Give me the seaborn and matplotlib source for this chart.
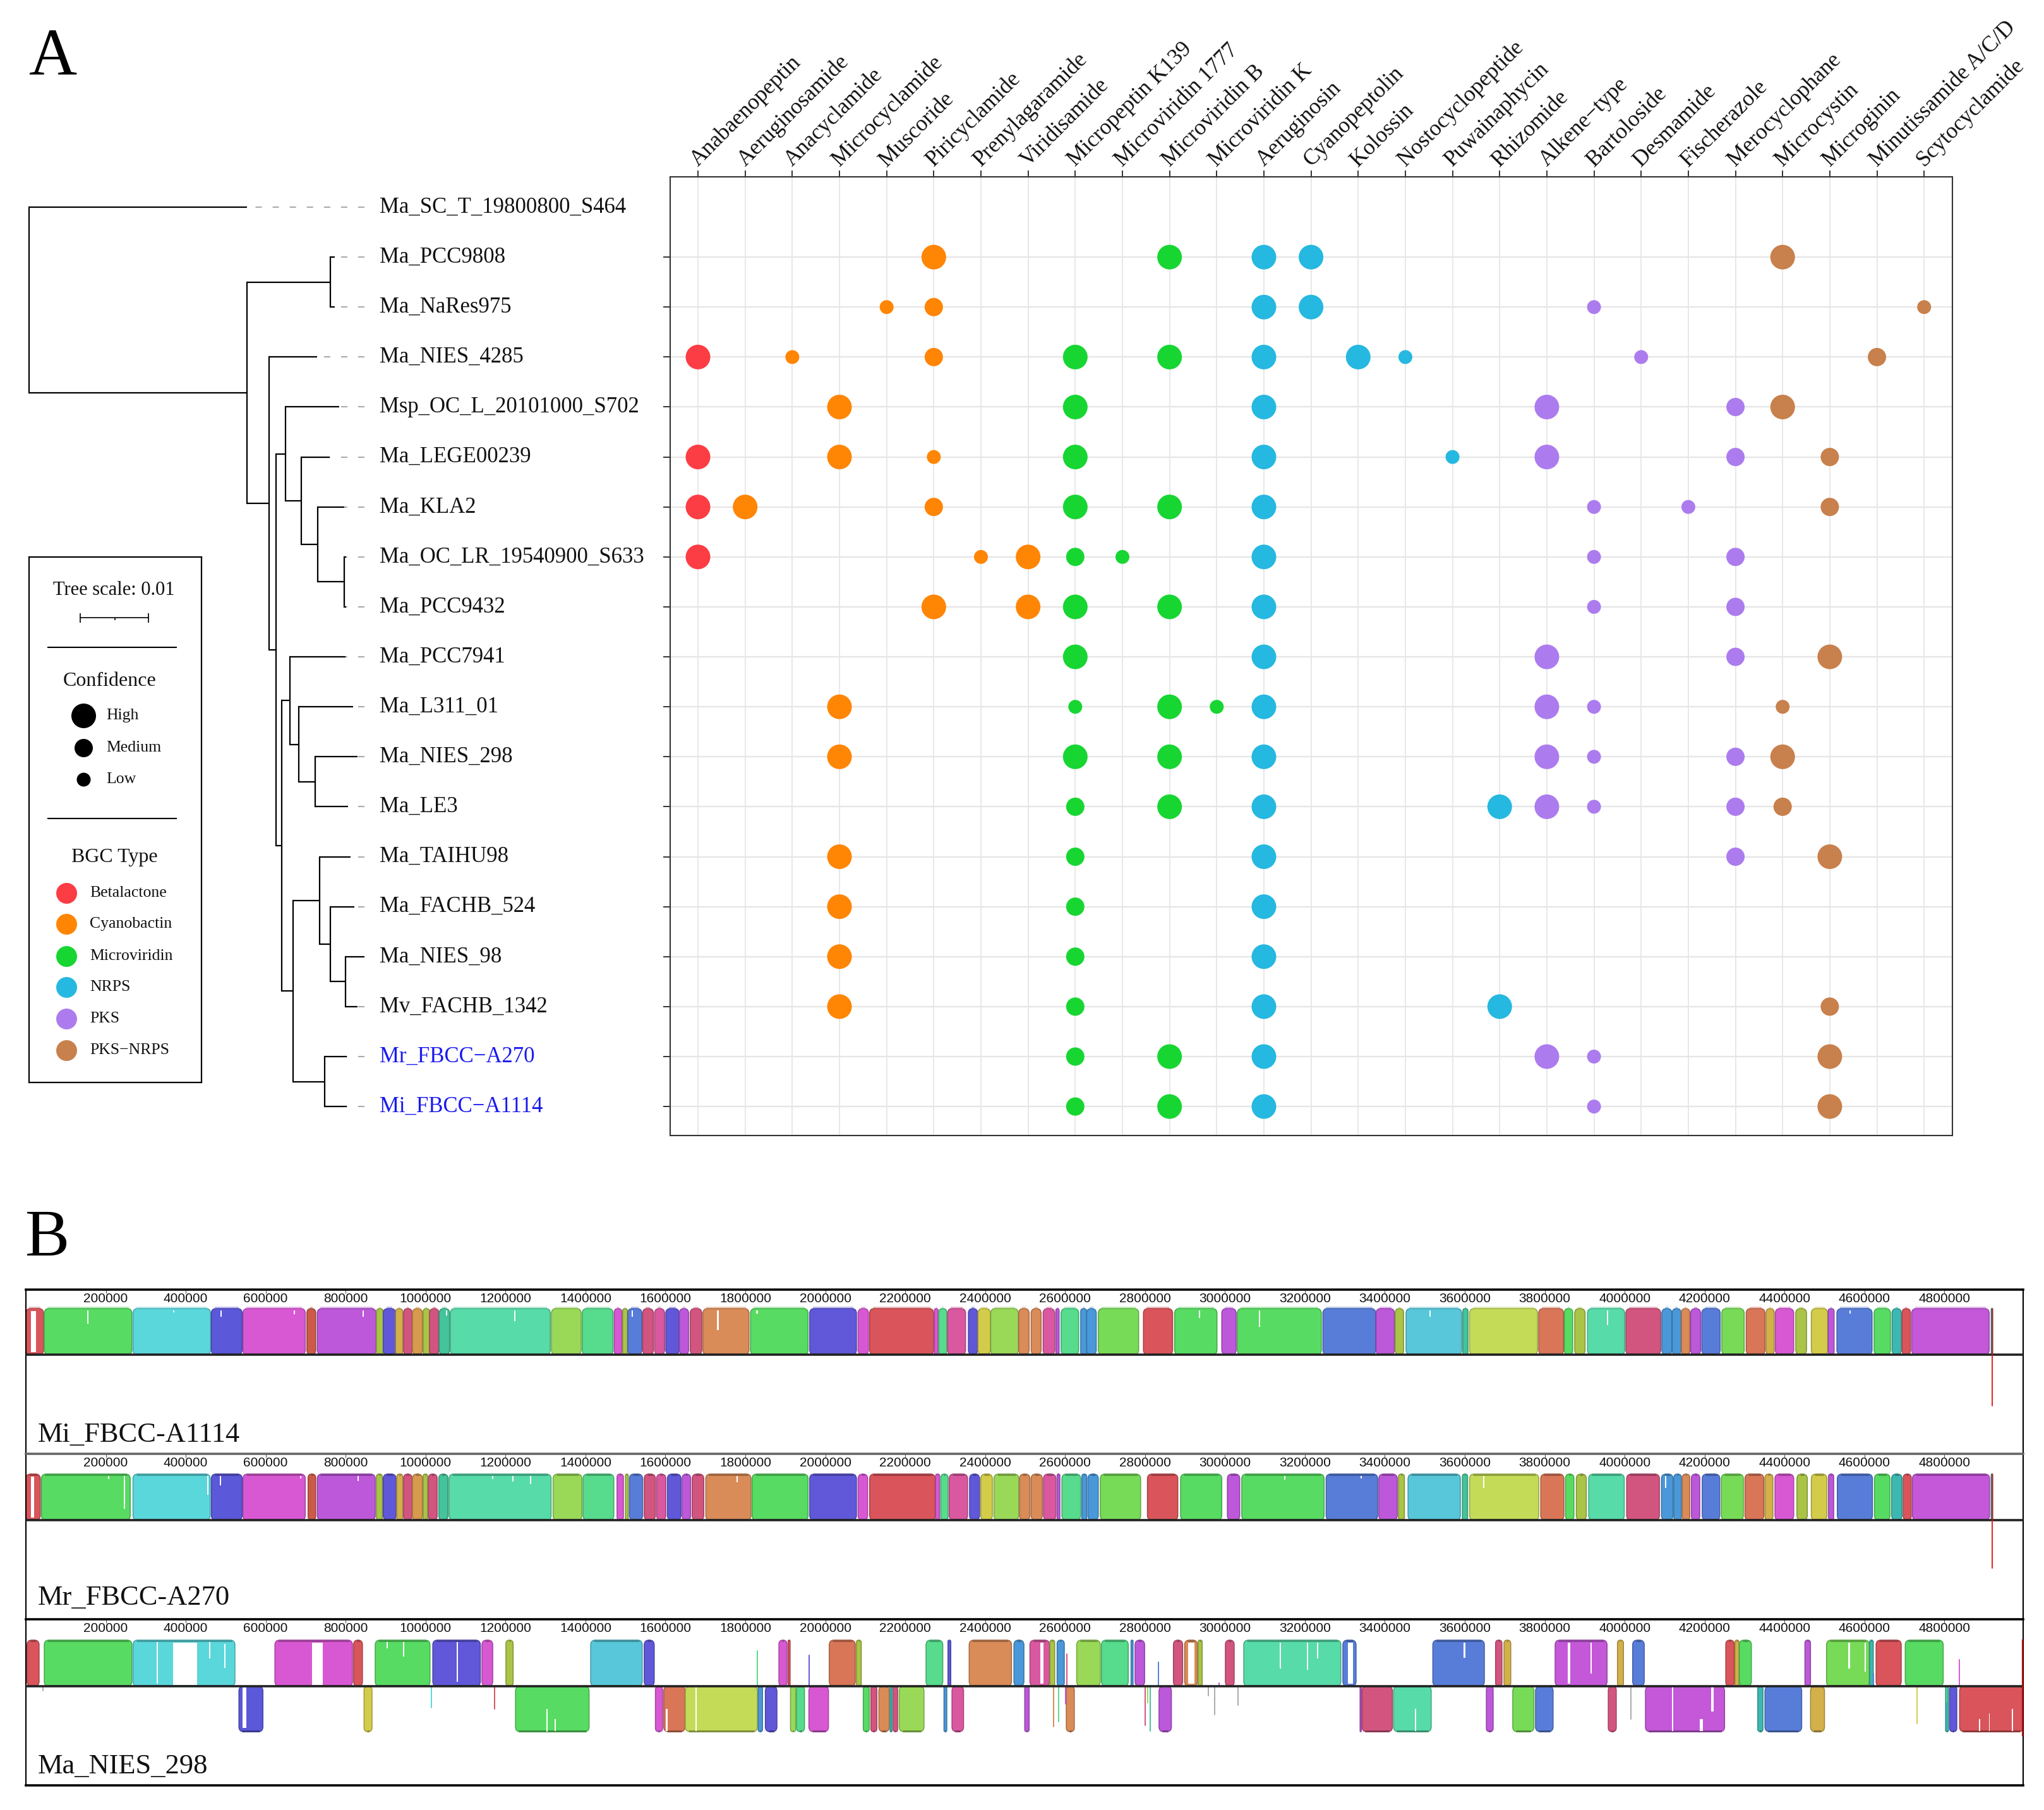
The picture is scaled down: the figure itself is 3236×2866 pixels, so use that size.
import numpy as np
import pandas as pd
import matplotlib
matplotlib.use("Agg")
import matplotlib.pyplot as plt
import seaborn as sns
from matplotlib.colors import to_rgb
from matplotlib.patches import FancyBboxPatch, Rectangle

# ---------- panel A data ----------
genomes = ["Ma_SC_T_19800800_S464", "Ma_PCC9808", "Ma_NaRes975", "Ma_NIES_4285",
           "Msp_OC_L_20101000_S702", "Ma_LEGE00239", "Ma_KLA2", "Ma_OC_LR_19540900_S633",
           "Ma_PCC9432", "Ma_PCC7941", "Ma_L311_01", "Ma_NIES_298", "Ma_LE3", "Ma_TAIHU98",
           "Ma_FACHB_524", "Ma_NIES_98", "Mv_FACHB_1342", "Mr_FBCC−A270", "Mi_FBCC−A1114"]
compounds = ["Anabaenopeptin", "Aeruginosamide", "Anacyclamide", "Microcyclamide", "Muscoride",
             "Piricyclamide", "Prenylagaramide", "Viridisamide", "Micropeptin K139",
             "Microviridin 1777", "Microviridin B", "Microviridin K", "Aeruginosin",
             "Cyanopeptolin", "Kolossin", "Nostocyclopeptide", "Puwainaphycin", "Rhizomide",
             "Alkene−type", "Bartoloside", "Desmamide", "Fischerazole", "Merocyclophane",
             "Microcystin", "Microginin", "Minutissamide A/C/D", "Scytocyclamide"]
bgc_types = ["Betalactone", "Cyanobactin", "Microviridin", "NRPS", "PKS", "PKS−NRPS"]
compound_bgc = (["Betalactone"] + ["Cyanobactin"] * 7 + ["Microviridin"] * 4 + ["NRPS"] * 6
                + ["PKS"] * 5 + ["PKS−NRPS"] * 4)
# compound index per genome, confidence letter per hit
hit_cols = [[], [5, 10, 12, 13, 23], [4, 5, 12, 13, 19, 26],
            [0, 2, 5, 8, 10, 12, 14, 15, 20, 25], [3, 8, 12, 18, 22, 23],
            [0, 3, 5, 8, 12, 16, 18, 22, 24], [0, 1, 5, 8, 10, 12, 19, 21, 24],
            [0, 6, 7, 8, 9, 12, 19, 22], [5, 7, 8, 10, 12, 19, 22], [8, 12, 18, 22, 24],
            [3, 8, 10, 11, 12, 18, 19, 23], [3, 8, 10, 12, 18, 19, 22, 23],
            [8, 10, 12, 17, 18, 19, 22, 23], [3, 8, 12, 22, 24], [3, 8, 12], [3, 8, 12],
            [3, 8, 12, 17, 24], [8, 10, 12, 18, 19, 24], [8, 10, 12, 19, 24]]
hit_conf = ["", "HHHHH", "LMHHLL", "HLMHHHHLLM", "HHHHMH", "HHLHHLHMM", "HHMHHHLLM",
            "HLHMLHLM", "HHHHHLM", "HHHMH", "HLHLHHLL", "HHHHHLMH", "MHHHHLMM", "HMHMH",
            "HMH", "HMH", "HMHHM", "MHHHLH", "MHHLH"]
conf_names = {"H": "High", "M": "Medium", "L": "Low"}

# tree: (node depth, child, child), an int child is a row in genomes
tree = (46, 0, (391, (523, 1, 2), (426, 3, (437,
        (452, 4, (477, 5, (503, 6, (545, 7, 8)))),
        (446, (459, 9, (473, 10, (499, 11, 12))),
              (464, (506, 13, (523, 14, (547, 15, 16))), (514, 17, 18)))))))
tip_depth = [391, 530, 530, 502, 537, 522, 545, 548, 548, 547, 559, 566, 551, 555, 561, 577, 566, 549, 549]

# ---------- panel B data, all in kb ----------
ruler_ticks = list(range(200000, 4800001, 200000))
track_names = ["Mi_FBCC-A1114", "Mr_FBCC-A270", "Ma_NIES_298"]
lcb_colors = {"red": "#D9555B", "green": "#58DB62", "cyan": "#5AD7DB", "blue": "#5B58D9",
              "magenta": "#D858D3", "brick": "#CC5A48", "purple": "#BC58D9", "olive": "#A9C447",
              "bluep": "#6058D9", "gold": "#D2B04A", "crimson": "#D2557F", "amber": "#D79A4E",
              "teal": "#45C39A", "mint": "#57DBA9", "ygreen": "#9AD958", "mgreen": "#57DB8C",
              "royal": "#587DD9", "pink": "#D958A0", "orange": "#D98B58", "azure": "#4A98D9",
              "lime": "#78DB58", "sky": "#57C7D9", "khaki": "#C4DB58", "orred": "#D97658",
              "yolive": "#D2CC4A", "orchid": "#C458D9", "tealb": "#3DB8B0"}
shared_lcb = ["red", "green", "cyan", "blue", "magenta", "brick", "purple", "olive", "bluep", "gold",
              "crimson", "amber", "olive", "crimson", "teal", "mint", "ygreen", "mgreen", "magenta",
              "olive", "royal", "crimson", "pink", "bluep", "purple", "crimson", "orange", "green",
              "bluep", "magenta", "red", "magenta", "mgreen", "pink", "bluep", "yolive", "ygreen",
              "orange", "orange", "pink", "purple", "mgreen", "azure", "azure", "lime", "red",
              "green", "purple", "green", "royal", "purple", "olive", "sky", "teal", "khaki",
              "orred", "green", "olive", "mint", "crimson", "azure", "azure", "orange", "purple",
              "royal", "lime", "orred", "gold", "magenta", "olive", "yolive", "purple", "royal",
              "green", "tealb", "red", "orchid", "tealb"]
t1_start = [0, 46, 268, 464, 543, 703, 729, 877, 894, 925, 945, 967, 994, 1010, 1034, 1062, 1315, 1392, 1472,
            1493, 1506, 1543, 1573, 1601, 1635, 1662, 1694, 1813, 1961, 2082, 2111, 2273, 2284, 2306, 2358,
            2382, 2414, 2484, 2515, 2545, 2577, 2590, 2639, 2654, 2683, 2796, 2874, 2992, 3031, 3245, 3378,
            3426, 3453, 3595, 3612, 3785, 3849, 3875, 3907, 4003, 4093, 4119, 4142, 4165, 4193, 4243, 4304,
            4354, 4377, 4428, 4467, 4509, 4531, 4624, 4669, 4694, 4718, 4917]
t1_end = [44, 265, 462, 541, 699, 725, 876, 894, 925, 943, 966, 992, 1010, 1033, 1060, 1312, 1389, 1469, 1491,
          1505, 1541, 1570, 1598, 1634, 1658, 1691, 1809, 1957, 2078, 2108, 2271, 2282, 2304, 2351, 2381,
          2413, 2483, 2510, 2540, 2574, 2585, 2634, 2654, 2678, 2784, 2869, 2980, 3028, 3241, 3377, 3424,
          3447, 3592, 3608, 3782, 3847, 3870, 3901, 4000, 4090, 4118, 4141, 4163, 4190, 4239, 4299, 4351,
          4374, 4423, 4455, 4508, 4524, 4619, 4665, 4692, 4715, 4912, 4921]
t2_start = [0, 39, 268, 464, 543, 706, 729, 877, 894, 928, 945, 967, 994, 1007, 1033, 1059, 1319, 1394, 1479,
            1500, 1510, 1547, 1578, 1605, 1642, 1667, 1701, 1817, 1961, 2082, 2111, 2276, 2289, 2310, 2361,
            2389, 2422, 2486, 2515, 2546, 2580, 2592, 2642, 2657, 2688, 2806, 2889, 3006, 3042, 3253, 3385,
            3434, 3458, 3594, 3612, 3790, 3852, 3879, 3910, 4005, 4092, 4123, 4144, 4167, 4194, 4242, 4301,
            4351, 4376, 4431, 4467, 4510, 4532, 4625, 4668, 4697, 4720, 4917]
t2_end = [36, 261, 461, 541, 699, 725, 874, 892, 926, 943, 966, 992, 1005, 1029, 1056, 1314, 1391, 1471, 1495,
          1507, 1543, 1575, 1601, 1639, 1663, 1696, 1814, 1957, 2078, 2106, 2275, 2286, 2307, 2356, 2386,
          2418, 2484, 2512, 2543, 2577, 2587, 2639, 2654, 2683, 2789, 2882, 2992, 3037, 3248, 3382, 3431,
          3449, 3589, 3607, 3785, 3848, 3873, 3904, 3999, 4087, 4121, 4142, 4163, 4188, 4238, 4297, 4348,
          4371, 4423, 4457, 4506, 4523, 4620, 4664, 4694, 4717, 4913, 4921]

t3_up_lcb = ["red", "green", "cyan", "magenta", "red", "green", "bluep", "magenta", "olive", "sky", "bluep",
             "magenta", "red", "orred", "olive", "mgreen", "bluep", "orange", "azure", "pink", "olive", "azure",
             "ygreen", "mgreen", "azure", "purple", "crimson", "orange", "olive", "crimson", "mint", "royal",
             "royal", "crimson", "gold", "orchid", "gold", "royal", "red", "gold", "green", "purple", "lime",
             "tealb", "red", "green"]
t3_up_start = [3, 46, 268, 623, 820, 874, 1018, 1141, 1201, 1413, 1547, 1884, 1907, 2010, 2078, 2252, 2307, 2360,
               2472, 2512, 2562, 2580, 2629, 2691, 2765, 2775, 2871, 2899, 2933, 3001, 3047, 3295, 3520, 3677,
               3698, 3826, 3982, 4020, 4253, 4276, 4287, 4451, 4505, 4613, 4629, 4702]
t3_up_end = [33, 265, 523, 817, 842, 1011, 1137, 1168, 1219, 1542, 1572, 1904, 1912, 2075, 2090, 2294, 2314, 2466,
             2497, 2561, 2574, 2598, 2688, 2758, 2770, 2799, 2894, 2931, 2943, 3023, 3290, 3328, 3649, 3693,
             3715, 3956, 3997, 4049, 4274, 4286, 4317, 4465, 4612, 4622, 4692, 4797]
t3_dn_lcb = ["blue", "yolive", "green", "magenta", "orred", "khaki", "azure", "bluep", "ygreen", "mgreen", "magenta",
             "green", "crimson", "orange", "tealb", "crimson", "ygreen", "azure", "pink", "purple", "orange", "purple",
             "purple", "crimson", "mint", "purple", "lime", "royal", "crimson", "orchid", "tealb", "royal", "gold",
             "tealb", "bluep", "red"]
t3_dn_start = [533, 846, 1225, 1575, 1596, 1650, 1832, 1850, 1913, 1928, 1959, 2095, 2114, 2134, 2162, 2170, 2185,
               2297, 2317, 2499, 2603, 2835, 3338, 3343, 3422, 3654, 3720, 3777, 3959, 4052, 4333, 4351, 4465,
               4803, 4813, 4838]
t3_dn_end = [593, 866, 1409, 1593, 1649, 1830, 1843, 1879, 1926, 1948, 2008, 2110, 2129, 2160, 2167, 2181, 2247,
             2304, 2346, 2510, 2623, 2866, 3341, 3419, 3516, 3671, 3773, 3821, 3979, 4250, 4346, 4443, 4500,
             4810, 4831, 4997]

# white holes: kb position, kb width, from and to as a share of the block height
t1_gap_kb = [13, 154, 369, 487, 670, 843, 1051, 1221, 1729, 1827, 1516, 2935, 3085, 3511, 3956, 4562]
t1_gap_w = [12, 3, 3, 3, 3, 3, 3, 3, 4, 5, 3, 3, 3, 3, 3, 3]
t1_gap_from = [.05, .04, .04, .04, .04, .04, .04, .04, .04, .04, .04, .04, .04, .04, .04, .04]
t1_gap_to = [.95, .33, .08, .18, .13, .18, .15, .27, .47, .11, .18, .2, .4, .18, .36, .11]
t2_gap_kb = [13, 206, 245, 454, 485, 686, 830, 1217, 1261, 1167, 1778, 3646, 4101, 3339, 3148]
t2_gap_w = [8, 3, 3, 2, 3, 3, 3, 3, 3, 3, 3, 3, 3, 3, 3]
t2_gap_from = [.05, .04, .04, .04, .04, .04, .04, .04, .04, .04, .04, .04, .04, .04, .04]
t2_gap_to = [.95, .11, .75, .45, .25, .09, .15, .17, .22, .11, .18, .3, .3, .09, .12]
t3_up_gap_kb = [368, 716, 327, 458, 497, 902, 944, 1078, 2908, 3307, 3137, 3205, 3230, 3597, 3915, 3858, 4560, 4601, 2538]
t3_up_gap_w = [60, 27, 3, 3, 3, 3, 3, 3, 15, 13, 3, 3, 3, 4, 3, 6, 4, 3, 8]
t3_up_gap_from = [.05, .05, .04, .04, .08, .04, .04, .04, .05, .05, .06, .06, .06, .06, .06, .06, .06, .06, .05]
t3_up_gap_to = [.97, .97, .95, .4, .6, .18, .35, .9, .95, .95, .62, .65, .4, .38, .72, .95, .62, .68, .95]
t3_dn_gap_kb = [542, 1302, 1323, 1675, 1601, 4119, 4188, 4217, 3475, 4886, 4911, 4968]
t3_dn_gap_w = [10, 3, 3, 4, 4, 3, 8, 5, 3, 3, 3, 3]
t3_dn_gap_from = [.03, .5, .72, .02, .5, .02, .72, .02, .5, .72, .6, .5]
t3_dn_gap_to = [.92, 1, .98, .98, .98, .98, .98, .55, .98, .98, .98, .98]

# thin partial alignments in the last track: kb, reach in track units, colour
spike_kb = [1830, 1960, 2605, 2833, 2986, 4622, 4838, 43, 1015, 1173, 4805,
            2571, 2584, 2602, 2801, 2807, 2813, 2958, 2974, 3032, 4015, 4732]
spike_len = [56, 49, 51, 38, 5, 20, 42, -7, -34, -36, -25,
             -64, -56, -28, -62, -26, -71, -15, -45, -30, -52, -59]
spike_lcb = ["mgreen", "bluep", "crimson", "royal", "purple", "royal", "magenta", "#AAAAAA", "cyan", "red", "mgreen",
             "orange", "mgreen", "purple", "crimson", "ygreen", "teal", "#AAAAAA", "#AAAAAA", "#AAAAAA", "#AAAAAA", "yolive"]
marker_kb = 4919
marker_len = [81, 76]

# ---------- figure ----------
W, H = 3237, 2866
DPI = 100
BP_PX = 0.0006328  # pixels per base in panel B


def ax_at(left, top, right, bottom):
    return fig.add_axes([left / W, 1 - bottom / H, (right - left) / W, (bottom - top) / H])


sns.set_theme(style="white")
plt.rcParams["font.family"] = ["Liberation Serif", "DejaVu Serif"]

fig = plt.figure(figsize=(W / DPI, H / DPI), dpi=DPI, facecolor="white")
fig.text(46 / W, 1 - 118 / H, "A", fontsize=76, color="black", va="baseline")
fig.text(40 / W, 1 - 1988 / H, "B", fontsize=76, color="black", va="baseline")

# ---------- A: bubble matrix ----------
records = []
for row, (cols, confs) in enumerate(zip(hit_cols, hit_conf)):
    for c, lvl in zip(cols, confs):
        records.append({"row": row, "col": c, "bgc": compound_bgc[c], "conf": conf_names[lvl]})
df = pd.DataFrame(records)

bgc_palette = dict(zip(bgc_types, ["#FC3D43", "#FF8505", "#17D632", "#25B8E0", "#AC7CEE", "#C8804C"]))
dot_px = {"High": 39, "Medium": 29, "Low": 22}
dot_sizes = {k: (v * 72 / DPI) ** 2 for k, v in dot_px.items()}

ylim = (18.58, -0.607)
ax = ax_at(1061, 280, 3091, 1798)
sns.scatterplot(data=df, x="col", y="row", hue="bgc", hue_order=bgc_types, palette=bgc_palette,
                size="conf", sizes=dot_sizes, legend=False, linewidth=0, zorder=3, ax=ax)
ax.set_xlim(-0.59, 26.6)
ax.set_ylim(*ylim)
ax.set_xlabel("")
ax.set_ylabel("")
ax.set_xticks(range(len(compounds)))
ax.set_yticks(range(1, len(genomes)))
ax.set_yticklabels([])
ax.set_xticklabels(compounds, rotation=45, ha="left", va="baseline", rotation_mode="anchor", fontsize=25.5,
                   color="#111111")
ax.tick_params(axis="x", bottom=False, top=True, labelbottom=False, labeltop=True, length=7, width=1.4,
               color="#333333", pad=4)
ax.tick_params(axis="y", left=True, length=8, width=1.4, color="#333333")
ax.grid(True, axis="y", color="#E6E6E6", lw=1.7)
ax.grid(True, axis="x", color="#E2E2E2", lw=1.1)
ax.set_axisbelow(True)
for s in ax.spines.values():
    s.set_color("#333333")
    s.set_linewidth(1.5)

# ---------- A: tree and genome names ----------
tax = ax_at(0, 280, 1061, 1798)
tax.set_xlim(0, 1061)
tax.set_ylim(*ylim)
tax.axis("off")
tax.patch.set_alpha(0)


def draw_clade(node, parent_x=None):
    if isinstance(node, int):
        x_here, y_here = tip_depth[node], node
        if x_here < 575:
            tax.plot([577, x_here], [y_here, y_here], color="#AAAAAA", lw=1.5, dashes=(4.8, 8.2),
                     dash_capstyle="butt")
    else:
        x_here, a, b = node
        ya = draw_clade(a, x_here)
        yb = draw_clade(b, x_here)
        tax.plot([x_here, x_here], [ya, yb], color="black", lw=1.6, solid_capstyle="projecting")
        y_here = (ya + yb) / 2
    if parent_x is not None:
        tax.plot([parent_x, x_here], [y_here, y_here], color="black", lw=1.6, solid_capstyle="butt")
    return y_here


draw_clade(tree)
for i, name in enumerate(genomes):
    tax.text(601, i, name, fontsize=25, va="center", ha="left",
             color="#1A1AF0" if "FBCC" in name else "#111111")

# ---------- A: legend box ----------
lax = ax_at(46, 882, 319, 1714)
lax.set_xlim(46, 319)
lax.set_ylim(1714, 882)
lax.set_xticks([])
lax.set_yticks([])
for s in lax.spines.values():
    s.set_color("black")
    s.set_linewidth(1.6)
lax.text(180, 934, "Tree scale: 0.01", fontsize=22, ha="center", va="center", color="#111111")
lax.plot([127, 235], [978, 978], color="black", lw=1.2)
lax.vlines([127, 235], 971, 986, color="black", lw=1.2)
lax.vlines(182, 978, 982, color="black", lw=1.2)
lax.hlines([1024.5, 1295.5], 75, 280, color="black", lw=1.5)
lax.text(174, 1079, "Confidence", fontsize=23, ha="center", va="center", color="#111111")
for lvl, yy in zip(["High", "Medium", "Low"], [1133, 1184, 1234]):
    lax.scatter([132], [yy], s=dot_sizes[lvl], color="black", linewidths=0)
    lax.text(168, yy, lvl, fontsize=18.5, va="center", color="#111111")
lax.text(181, 1357, "BGC Type", fontsize=23, ha="center", va="center", color="#111111")
for b_name, yy in zip(bgc_types, [1413.6, 1463, 1513.6, 1563, 1613, 1663]):
    lax.scatter([105], [yy], s=(33 * 72 / DPI) ** 2, color=bgc_palette[b_name], linewidths=0)
    lax.text(142, yy, b_name, fontsize=18.5, va="center", color="#111111")


# ---------- B: genome alignment tracks ----------
def lcb_color(key):
    return lcb_colors.get(key, key)


def dark(key, f=0.72):
    return tuple(c * f for c in to_rgb(lcb_color(key)))


def draw_blocks(a, starts, ends, keys, y0, y1, top_band="dark", bottom_band="dark"):
    for s0, e0, key in zip(starts, ends, keys):
        s_bp, e_bp = s0 * 1000, e0 * 1000
        rs = min(12000, (e_bp - s_bp) / 2)
        a.add_patch(FancyBboxPatch((s_bp, y0), e_bp - s_bp, y1 - y0, boxstyle=f"round,pad=0,rounding_size={rs}",
                                   mutation_aspect=BP_PX, facecolor=lcb_color(key), edgecolor=dark(key, 0.76),
                                   lw=1.1, zorder=2))
        m = min(rs * 0.8, 8000)
        if top_band == "dark":
            a.plot([s_bp + m, e_bp - m], [y1 - 1, y1 - 1], color=dark(key), lw=2.2, solid_capstyle="butt", zorder=3)
        elif top_band == "pale":
            a.plot([s_bp + m, e_bp - m], [y1 + 1, y1 + 1], color=dark(key, 0.95), alpha=0.35, lw=3,
                   solid_capstyle="butt", zorder=3)
        if bottom_band == "dark":
            a.plot([s_bp + m, e_bp - m], [y0 + 1, y0 + 1], color=dark(key, 0.65), lw=2.2, solid_capstyle="butt",
                   zorder=3)


def draw_gaps(a, kb, width, g_from, g_to, y0, y1):
    # g_from/g_to run from the top of the block (y1) to the bottom (y0)
    for k, w, f, t in zip(kb, width, g_from, g_to):
        a.add_patch(Rectangle((k * 1000, y1 - t * (y1 - y0)), w * 1000, (t - f) * (y1 - y0), facecolor="white",
                              edgecolor="none", zorder=4))


track_boxes = [(2042, 2302, 2145), (2302, 2564, 2407), (2564, 2827, 2670)]
track_top_color = ["black", "#666666", "black"]
label_y = [2272, 2530, 2797]
BLOCK_H = 73

for i, (t, b, c) in enumerate(track_boxes):
    a = ax_at(41, t, 3203, b)
    a.set_xlim(0, 4997000)
    a.set_ylim(c - b, c - t)
    a.set_yticks([])
    a.set_xticks(ruler_ticks)
    a.set_xticklabels([str(v) for v in ruler_ticks], family="Liberation Sans", fontsize=15, color="#111111")
    a.tick_params(axis="x", bottom=False, top=True, labelbottom=False, labeltop=True, direction="in", length=4,
                  width=0.8, color="#555555", pad=-17)
    a.axhline(0, color="#222222", lw=2.6, zorder=5)
    for s in a.spines.values():
        s.set_color("black")
        s.set_linewidth(1.5)
    a.spines["top"].set_color(track_top_color[i])
    a.spines["top"].set_linewidth(2.6)
    a.spines["bottom"].set_visible(i == 2)
    a.spines["bottom"].set_linewidth(2.6)
    a.text(30000, (c - label_y[i]), track_names[i], fontsize=32, ha="left", va="center", color="#111111")
    if i == 0:
        draw_blocks(a, t1_start, t1_end, shared_lcb, 0, BLOCK_H, top_band="pale")
        draw_gaps(a, t1_gap_kb, t1_gap_w, t1_gap_from, t1_gap_to, 0, BLOCK_H)
    elif i == 1:
        draw_blocks(a, t2_start, t2_end, shared_lcb, 0, BLOCK_H)
        draw_gaps(a, t2_gap_kb, t2_gap_w, t2_gap_from, t2_gap_to, 0, BLOCK_H)
    else:
        draw_blocks(a, t3_up_start, t3_up_end, t3_up_lcb, 0, BLOCK_H)
        draw_gaps(a, t3_up_gap_kb, t3_up_gap_w, t3_up_gap_from, t3_up_gap_to, 0, BLOCK_H)
        draw_blocks(a, t3_dn_start, t3_dn_end, t3_dn_lcb, -72, 0, top_band=None)
        draw_gaps(a, t3_dn_gap_kb, t3_dn_gap_w, t3_dn_gap_from, t3_dn_gap_to, -72, 0)
        for k, h, key in zip(spike_kb, spike_len, spike_lcb):
            a.plot([k * 1000, k * 1000], [0, h], color=lcb_color(key), lw=1.4, zorder=2)
        a.plot([4997000, 4997000], [-78, BLOCK_H], color="#CC0000", lw=3, clip_on=True, zorder=6)
    if i < 2:
        a.plot([marker_kb * 1000] * 2, [-marker_len[i], BLOCK_H], color="#E01010", lw=1.3, zorder=6)

fig.savefig("out.png", dpi=DPI)
